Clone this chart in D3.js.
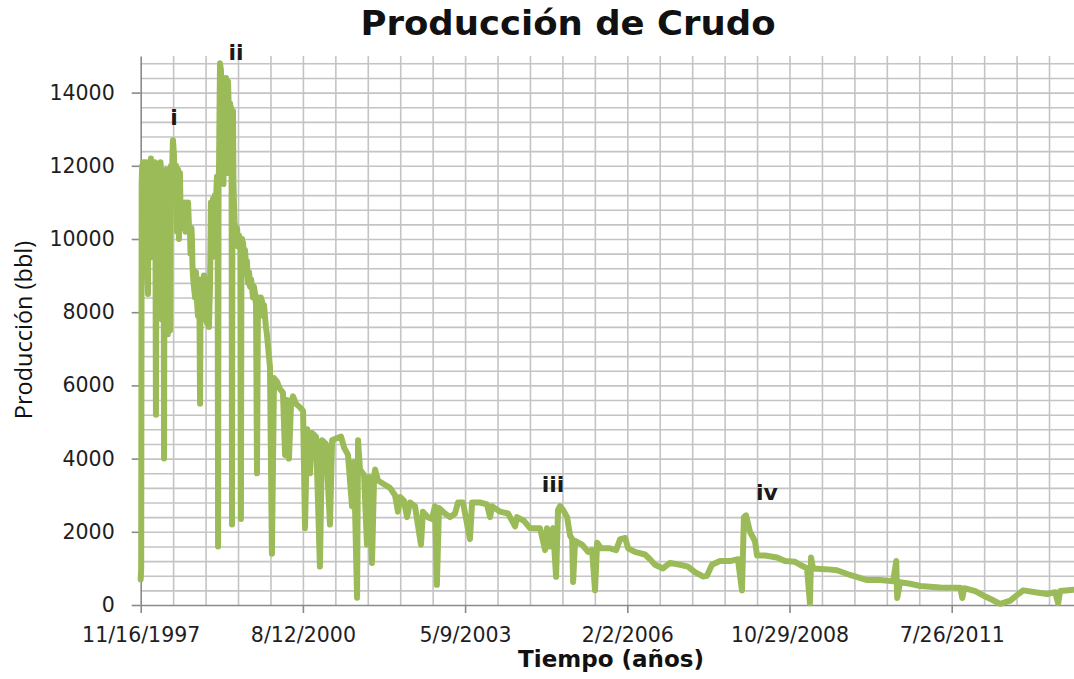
<!DOCTYPE html>
<html>
<head>
<meta charset="utf-8">
<script src="https://cdn.jsdelivr.net/npm/d3@7"></script>
<style>
  html, body { margin: 0; padding: 0; background: #ffffff; }
  svg { display: block; }
</style>
</head>
<body>
<svg id="chart" width="1074" height="679"></svg>
<script>
// Producción diaria de crudo (bbl), días contados desde la fecha de inicio
const fechaInicio = "1997-11-16";

const diasDesdeInicio = [
  0, 3, 6, 9, 12, 15, 18, 21, 24, 27,
  30, 33, 36, 39, 42, 45, 48, 51, 54, 57,
  60, 63, 66, 69, 72, 75, 78, 81, 84, 87,
  90, 94, 98, 101, 104, 107, 110, 113, 116, 119,
  122, 125, 128, 131, 134, 137, 141, 144, 147, 150,
  153, 156, 159, 162, 165, 168, 171, 174, 177, 181,
  184, 187, 190, 193, 196, 199, 202, 205, 208, 211,
  214, 218, 221, 224, 227, 230, 233, 236, 239, 242,
  245, 248, 254, 261, 267, 273, 276, 279, 285, 292,
  298, 304, 307, 310, 313, 316, 319, 322, 328, 335,
  338, 341, 347, 353, 356, 359, 362, 366, 369, 372,
  378, 384, 387, 390, 396, 403, 406, 409, 412, 415,
  418, 421, 424, 427, 430, 433, 436, 440, 443, 446,
  452, 458, 464, 470, 474, 477, 480, 483, 486, 489,
  492, 495, 498, 501, 504, 507, 510, 514, 517, 520,
  523, 526, 529, 532, 535, 538, 541, 544, 547, 551,
  554, 557, 560, 563, 566, 569, 572, 575, 578, 581,
  587, 594, 600, 606, 612, 615, 618, 621, 625, 628,
  631, 637, 643, 649, 655, 658, 662, 668, 674, 680,
  686, 692, 698, 705, 711, 717, 723, 729, 735, 741,
  748, 754, 760, 766, 772, 778, 797, 809, 822, 840,
  859, 877, 890, 902, 914, 927, 939, 957, 982, 1001,
  1013, 1026, 1044, 1056, 1081, 1105, 1118, 1142, 1167, 1180,
  1204, 1235, 1254, 1278, 1303, 1315, 1334, 1340, 1352, 1377,
  1395, 1408, 1426, 1439, 1445, 1463, 1500, 1537, 1568, 1586,
  1599, 1623, 1642, 1660, 1691, 1728, 1740, 1771, 1796, 1814,
  1826, 1839, 1876, 1907, 1938, 1956, 1987, 2030, 2043, 2092,
  2135, 2154, 2166, 2216, 2265, 2308, 2320, 2363, 2400, 2462,
  2493, 2505, 2524, 2542, 2561, 2573, 2585, 2604, 2629, 2647,
  2660, 2666, 2678, 2721, 2758, 2783, 2801, 2814, 2838, 2894,
  2931, 2956, 2987, 3005, 3047, 3109, 3140, 3171, 3220, 3263,
  3325, 3374, 3417, 3466, 3491, 3522, 3571, 3633, 3682, 3707,
  3719, 3732, 3756, 3787, 3800, 3849, 3923, 3972, 4034, 4065,
  4108, 4126, 4133, 4145, 4219, 4293, 4373, 4478, 4559, 4639,
  4658, 4664, 4682, 4744, 4806, 4929, 5053, 5065, 5077, 5145,
  5194, 5237, 5299, 5361, 5411, 5441, 5515, 5588, 5638, 5656,
  5669, 5755
];

const produccion = [
  700, 1000, 11500, 12000, 11200, 12100, 11000, 11900, 10800, 12000,
  11300, 12100, 10500, 11800, 9000, 8500, 11900, 12000, 10800, 11500,
  9800, 12200, 11600, 9500, 11800, 11000, 12000, 10200, 11400, 12100,
  11600, 5200, 11900, 11700, 9800, 8800, 11500, 12000, 10800, 11600,
  12100, 11900, 9500, 7800, 11200, 11800, 11000, 4000, 11400, 11800,
  9500, 9000, 11900, 11600, 8200, 7400, 11600, 11000, 7600, 7500,
  11800, 12000, 11200, 11600, 12300, 12700, 12500, 12300, 11600, 11700,
  11200, 12000, 10800, 10200, 11300, 11900, 10600, 10000, 11400, 11800,
  11000, 10500, 10800, 10300, 10700, 11000, 10200, 10400, 10700, 11000,
  10300, 10200, 9600, 9700, 10300, 10000, 9300, 9000, 8700, 8400,
  9000, 9100, 8300, 7900, 8600, 8900, 8200, 5500, 8300, 8800,
  8500, 7800, 8700, 9000, 8400, 8300, 8800, 7700, 8600, 8900,
  8000, 7600, 8200, 8600, 9800, 11000, 10200, 9500, 10500, 11100,
  10900, 11200, 11000, 11700, 11400, 1600, 11500, 12000, 13500, 14800,
  14700, 14600, 13200, 12500, 13300, 13800, 11500, 13000, 13900, 14200,
  12800, 14400, 14200, 13600, 11800, 14300, 13900, 13400, 12000, 13700,
  13500, 13600, 12500, 2200, 13000, 13500, 11500, 11000, 10500, 10300,
  10200, 10300, 9800, 10100, 10000, 9700, 2350, 9600, 10000, 9600,
  9900, 9500, 9700, 9300, 9400, 9000, 8800, 9100, 8700, 8900,
  8700, 8400, 8700, 8500, 8200, 3600, 8300, 8400, 8100, 8400,
  8300, 7900, 8200, 7900, 7600, 7400, 6500, 1400, 6200, 6100,
  5900, 5800, 4100, 5600, 4000, 5500, 5700, 5500, 5400, 5300,
  2100, 4800, 3600, 4700, 4600, 1050, 4500, 4400, 2200, 4500,
  4550, 4600, 4300, 4100, 2700, 3900, 200, 4500, 3700, 3550,
  1650, 3500, 1150, 3500, 3700, 3400, 3300, 3200, 3000, 2550,
  2950, 2850, 2400, 2800, 2700, 1650, 2550, 2400, 2350, 2700,
  550, 2650, 2500, 2400, 2500, 2800, 2800, 1800, 2800, 2800,
  2750, 2400, 2700, 2550, 2500, 2150, 2400, 2300, 2100, 2100,
  1500, 2100, 1600, 2100, 770, 2600, 2700, 2600, 2400, 1900,
  1800, 630, 1750, 1650, 1450, 1500, 400, 1700, 1550, 1550,
  1500, 1800, 1830, 1550, 1450, 1380, 1250, 1100, 1000, 1150,
  1100, 1050, 900, 780, 800, 1100, 1200, 1200, 1250, 400,
  2400, 2450, 2000, 1750, 1350, 1350, 1300, 1200, 1180, 1100,
  1000, 50, 1300, 1000, 980, 950, 820, 680, 680, 650,
  1200, 190, 620, 580, 520, 480, 470, 190, 460, 380,
  260, 170, 30, 120, 300, 400, 350, 300, 350, 50,
  380, 420
];

// Marcas de los ejes
const yTicks = [0, 2000, 4000, 6000, 8000, 10000, 12000, 14000];
const xTickLabels = ["11/16/1997", "8/12/2000", "5/9/2003", "2/2/2006", "10/29/2008", "7/26/2011"];

// Eventos señalados sobre la curva (día, producción)
const eventos = ["i", "ii", "iii", "iv"];
const eventosDia = [205, 588, 2542, 3861];
const eventosValor = [13120, 14900, 3090, 2870];

const svg = d3.select("#chart");
const W = 1074, H = 679;
const plot = { left: 140.7, right: 1074, top: 56, bottom: 605 };

svg.append("rect").attr("width", W).attr("height", H).attr("fill", "#ffffff");

const t0 = d3.utcParse("%Y-%m-%d")(fechaInicio);
const toDate = d => d3.utcDay.offset(t0, d);
const parseLabel = d3.utcParse("%m/%d/%Y");
const fmtLabel = d3.utcFormat("%-m/%-d/%Y");

const x = d3.scaleUtc()
  .domain([t0, toDate(5754)])
  .range([plot.left, plot.right]);

const y = d3.scaleLinear()
  .domain([0, 15000])
  .range([plot.bottom, plot.top]);

const gridColor = "#c4c4c4";
const axisColor = "#8a8a8a";

// Rejilla horizontal cada 400 bbl
const hGrid = d3.range(400, 15000, 400);
svg.append("g")
  .attr("transform", `translate(${plot.left},0)`)
  .call(d3.axisLeft(y).tickValues(hGrid).tickSize(-(plot.right - plot.left)).tickFormat(""))
  .call(g => g.select(".domain").remove())
  .call(g => g.selectAll(".tick line").attr("stroke", gridColor).attr("stroke-width", 1.6));

// Rejilla vertical cada 200 días
const vGrid = d3.range(200, 5754, 200).map(toDate);
svg.append("g")
  .attr("transform", `translate(0,${plot.bottom})`)
  .call(d3.axisBottom(x).tickValues(vGrid).tickSize(-(plot.bottom - plot.top)).tickFormat(""))
  .call(g => g.select(".domain").remove())
  .call(g => g.selectAll(".tick line").attr("stroke", gridColor).attr("stroke-width", 1.6));

// Eje Y
svg.append("g")
  .attr("transform", `translate(${plot.left},0)`)
  .call(d3.axisLeft(y).tickValues(yTicks).tickFormat(d3.format("d")).tickSize(9).tickPadding(17).tickSizeOuter(0))
  .call(g => g.select(".domain").attr("stroke", axisColor).attr("stroke-width", 1.6))
  .call(g => g.selectAll(".tick line").attr("stroke", axisColor).attr("stroke-width", 1.6))
  .call(g => g.selectAll(".tick text")
    .attr("font-family", "DejaVu Sans, Verdana, sans-serif")
    .attr("font-size", 20.5)
    .attr("fill", "#1e1e24"));

// Eje X
svg.append("g")
  .attr("transform", `translate(0,${plot.bottom})`)
  .call(d3.axisBottom(x).tickValues(xTickLabels.map(parseLabel)).tickFormat(fmtLabel).tickSize(8).tickPadding(14).tickSizeOuter(0))
  .call(g => g.select(".domain").attr("stroke", axisColor).attr("stroke-width", 1.6))
  .call(g => g.selectAll(".tick line").attr("stroke", axisColor).attr("stroke-width", 1.6))
  .call(g => g.selectAll(".tick text")
    .attr("font-family", "DejaVu Sans, Verdana, sans-serif")
    .attr("font-size", 20.5)
    .attr("fill", "#1e1e24"));

// Curva de producción
const serie = diasDesdeInicio.map((d, i) => ({ fecha: toDate(d), valor: produccion[i] }));
const linea = d3.line()
  .x(d => x(d.fecha))
  .y(d => y(d.valor));

svg.append("path")
  .datum(serie)
  .attr("d", linea)
  .attr("fill", "none")
  .attr("stroke", "#9bbb59")
  .attr("stroke-width", 6)
  .attr("stroke-linejoin", "round")
  .attr("stroke-linecap", "round");

// Etiquetas de eventos
svg.append("g")
  .selectAll("text")
  .data(eventos)
  .join("text")
  .attr("x", (d, i) => x(toDate(eventosDia[i])))
  .attr("y", (d, i) => y(eventosValor[i]))
  .attr("text-anchor", "middle")
  .attr("font-family", "DejaVu Sans, Verdana, sans-serif")
  .attr("font-weight", "bold")
  .attr("font-size", 22)
  .attr("fill", "#1a1a1a")
  .text(d => d);

// Título
svg.append("text")
  .attr("x", 568)
  .attr("y", 35)
  .attr("text-anchor", "middle")
  .attr("font-family", "DejaVu Sans, Verdana, sans-serif")
  .attr("font-weight", "bold")
  .attr("font-size", 33)
  .attr("textLength", 415)
  .attr("lengthAdjust", "spacingAndGlyphs")
  .attr("fill", "#111111")
  .text("Producción de Crudo");

// Título del eje X
svg.append("text")
  .attr("x", 611)
  .attr("y", 667)
  .attr("text-anchor", "middle")
  .attr("font-family", "DejaVu Sans, Verdana, sans-serif")
  .attr("font-weight", "bold")
  .attr("font-size", 23)
  .attr("fill", "#111111")
  .text("Tiempo (años)");

// Título del eje Y
svg.append("text")
  .attr("transform", "translate(32,330) rotate(-90)")
  .attr("text-anchor", "middle")
  .attr("font-family", "Open Sans, sans-serif")
  .attr("font-size", 23.5)
  .attr("fill", "#111111")
  .text("Producción (bbl)");
</script>
</body>
</html>
